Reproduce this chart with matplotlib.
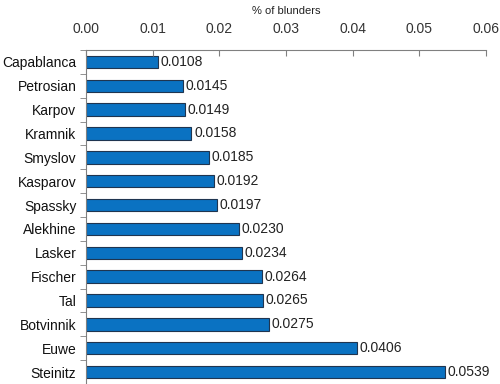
import matplotlib.pyplot as plt

jugadores = ["Capablanca", "Petrosian", "Karpov", "Kramnik", "Smyslov", "Kasparov",
             "Spassky", "Alekhine", "Lasker", "Fischer", "Tal", "Botvinnik", "Euwe", "Steinitz"]
errores = [0.0108, 0.0145, 0.0149, 0.0158, 0.0185, 0.0192, 0.0197,
           0.0230, 0.0234, 0.0264, 0.0265, 0.0275, 0.0406, 0.0539]
ticks_x = [0.00, 0.01, 0.02, 0.03, 0.04, 0.05, 0.06]

plt.rcParams["font.family"] = ["Liberation Sans", "DejaVu Sans"]

fig = plt.figure(figsize=(5, 3.84), dpi=100)
ax = fig.add_axes([0.172, 0.0, 0.8, 0.87])

pos = range(len(jugadores))
ax.barh(pos, errores, height=0.52, color="#0a72c2", edgecolor="#1f3550", linewidth=0.8)
for p, v in zip(pos, errores):
    ax.text(v + 0.0004, p, f"{v:.4f}", va="center", ha="left", fontsize=10, color="#222222")

ax.set_xlim(0, 0.06)
ax.set_ylim(len(jugadores) - 0.5, -0.5)
ax.set_xticks(ticks_x)
ax.set_xticklabels([f"{t:.2f}" for t in ticks_x], fontsize=10, color="#333333")
ax.xaxis.tick_top()
ax.xaxis.set_label_position("top")
ax.set_xlabel("% of blunders", fontsize=8, color="#222222", labelpad=6)
ax.tick_params(axis="x", direction="in", length=4, color="#808080", pad=10)

ax.set_yticks(pos)
ax.set_yticklabels(jugadores, fontsize=10, color="#111111")
ax.set_yticks([p + 0.5 for p in range(-1, len(jugadores))], minor=True)
ax.tick_params(axis="y", which="major", length=0, pad=7)
ax.tick_params(axis="y", which="minor", length=4, color="#808080", direction="out")

for lado in ["right", "bottom"]:
    ax.spines[lado].set_visible(False)
for lado in ["top", "left"]:
    ax.spines[lado].set_color("#808080")

fig.savefig("out.png", dpi=100)
